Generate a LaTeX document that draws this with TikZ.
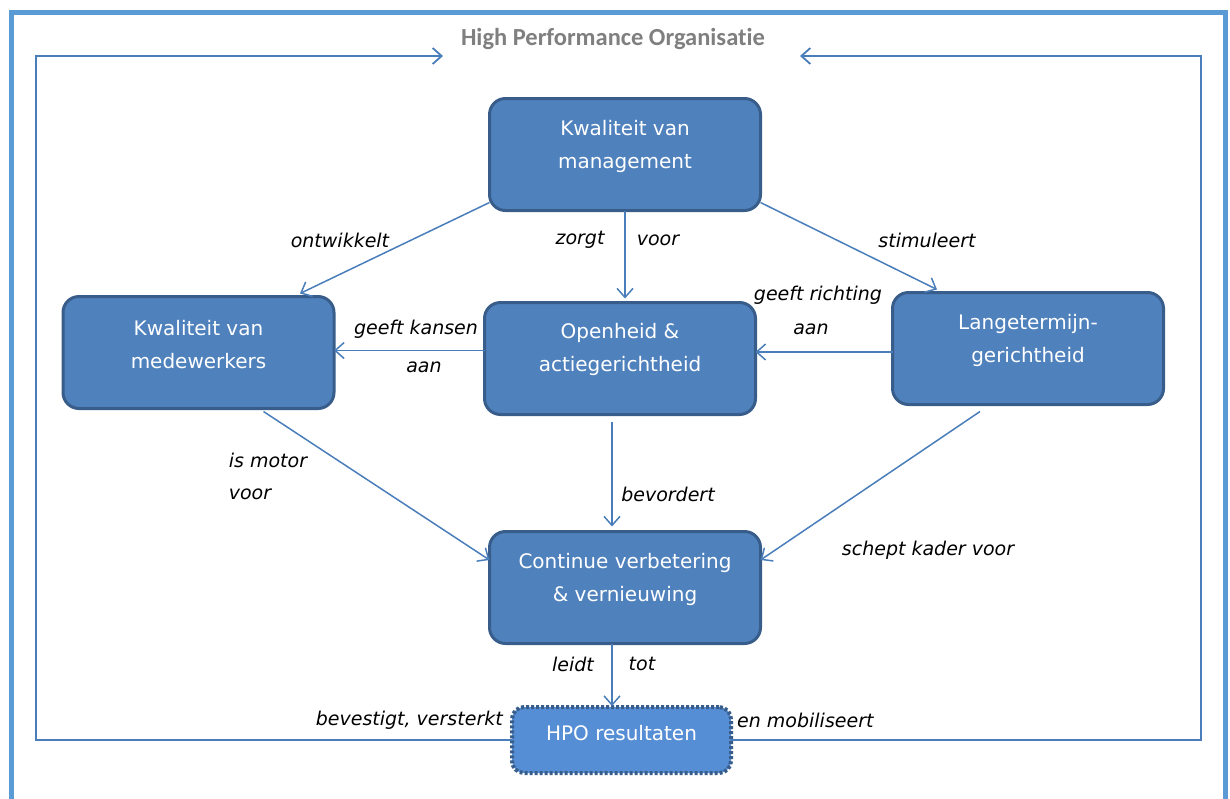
\documentclass[tikz,border=0pt]{standalone}
\usepackage{fontspec}
\setmainfont{DejaVu Sans}
\newfontfamily\titlefont[Ligatures=NoCommon]{Carlito}
\usetikzlibrary{arrows.meta,calc}
\definecolor{boxfill}{HTML}{4F81BD}
\definecolor{boxline}{HTML}{385D8A}
\definecolor{hpofill}{HTML}{558ED5}
\definecolor{arrcol}{HTML}{4A7EBB}
\definecolor{framecol}{HTML}{5B9BD5}
\definecolor{titlecol}{HTML}{7F7F7F}
\begin{document}
\begin{tikzpicture}[x=1pt,y=-1pt,
 box/.style={draw=boxline, line width=3pt, fill=boxfill, rounded corners=16pt,
   minimum width=271pt, minimum height=112pt, inner sep=0pt, outer sep=0pt},
 hpobox/.style={draw=boxline, line width=4pt, dash pattern=on 3pt off 2pt, fill=hpofill,
   rounded corners=12pt, minimum width=219pt, minimum height=66pt, inner sep=0pt, outer sep=0pt},
 btext/.style={text=white, font=\fontsize{20}{33}\selectfont, align=center, inner sep=0pt},
 lbl/.style={font=\fontsize{19}{23}\selectfont\itshape, text=black, inner sep=0pt},
 arr/.style={draw=arrcol, line width=1.5pt, -{Straight Barb[length=9pt,width=16pt]}},
 loopline/.style={arr, line width=1.8pt}]
\useasboundingbox (0,0) rectangle (1230,798);
% outer frame
\draw[framecol, line width=5pt] (11,805) -- (11,12.5) -- (1225.5,12.5) -- (1225.5,805);
% title
\node[text=titlecol, font=\titlefont\bfseries\fontsize{24.5}{28}\selectfont, inner sep=0pt] (title) at (613,39) {High Performance Organisatie};
% boxes
\node[box] (m) at (625,154.5) {};
\node[btext] (mt) at ([yshift=8pt]m.center) {Kwaliteit van\\management};
\node[box] (w) at (198.5,352.5) {};
\node[btext] (wt) at ([yshift=8pt]w.center) {Kwaliteit van\\medewerkers};
\node[box] (o) at (620,358.5) {};
\node[btext] (ot) at ([yshift=9pt]o.center) {Openheid \&\\actiegerichtheid};
\node[box] (l) at (1028,348.5) {};
\node[btext] (lt) at ([yshift=8pt]l.center) {Langetermijn-\\gerichtheid};
\node[box] (c) at (625,587.5) {};
\node[btext] (ct) at ([yshift=8pt]c.center) {Continue verbetering\\\& vernieuwing};
\node[hpobox] (h) at (621.5,740) {};
\node[btext] (ht) at ([yshift=7pt]h.center) {HPO resultaten};
% loop coordinates
\coordinate (tl) at (36,56);
\coordinate (tla) at (443,56);
\coordinate (tr) at (1201,56);
\coordinate (tra) at (800,56);
% arrows
\draw[arr] ([yshift=8pt]m.south west) -- ([xshift=-34pt,yshift=3pt]w.north east);
\draw[arr] (m.south) -- ([xshift=5pt,yshift=4pt]o.north);
\draw[arr] ([yshift=8pt]m.south east) -- ([xshift=-91pt,yshift=3pt]l.north);
\draw[arr] ([yshift=8pt]o.west) -- ([yshift=8pt]o.west -| w.east);
\draw[arr] ([yshift=-3.5pt]l.west) -- ([yshift=-3.5pt]l.west -| o.east);
\draw[arr] ([xshift=65pt,yshift=-3pt]w.south) -- ([yshift=27.5pt]c.west);
\draw[arr] ([xshift=-8pt,yshift=-7pt]o.south) -- ([xshift=-13pt,yshift=5pt]c.north);
\draw[arr] ([xshift=-48pt,yshift=-7pt]l.south) -- ([yshift=27.5pt]c.east);
\draw[arr] ([xshift=-13pt]c.south) -- ([xshift=-9.5pt,yshift=1pt]h.north);
\draw[loopline] (h.west) -- (h.west -| tl) -- (tl) -- (tla);
\draw[loopline] (h.east) -- (h.east -| tr) -- (tr) -- (tra);
% labels
\node[lbl] (l1) at (340,240) {ontwikkelt};
\node[lbl] (l2) at (580,240) {zorgt};
\node[lbl] (l3) at (658,240) {voor};
\node[lbl] (l4) at (927,240) {stimuleert};
\node[lbl] (l5) at (416,329) {geeft kansen};
\node[lbl] (l6) at (424,367) {aan};
\node[lbl] (l7) at (818,295) {geeft richting};
\node[lbl] (l8) at (811,329) {aan};
\node[lbl] (l9) at (268,460) {is motor};
\node[lbl] (l10) at (250,494) {voor};
\node[lbl] (l11) at (668,494) {bevordert};
\node[lbl] (l12) at (928,550) {schept kader voor};
\node[lbl] (l13) at (573,664) {leidt};
\node[lbl] (l14) at (642,664) {tot};
\node[lbl, anchor=east] (l15) at (503,720) {bevestigt, versterkt};
\node[lbl, anchor=west] (l16) at (737,720) {en mobiliseert};
\end{tikzpicture}
\end{document}
